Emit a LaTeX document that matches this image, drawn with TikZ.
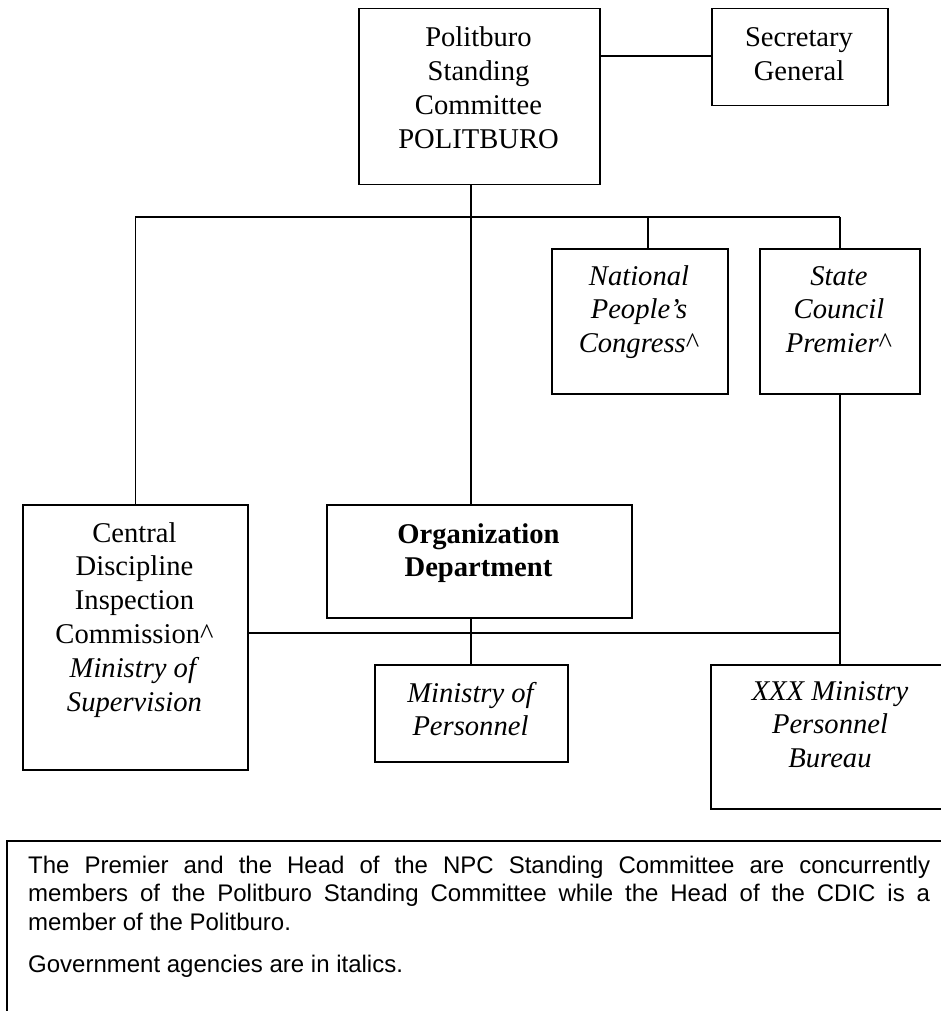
\documentclass[tikz,border=0pt]{standalone}
\usepackage{fontspec}
\setmainfont{Liberation Serif}
\newfontfamily\notefont{Liberation Sans}
\begin{document}
\begin{tikzpicture}[x=1pt,y=-1pt,
  box/.style={draw=black,line width=1.5pt,inner sep=0pt,anchor=north west,fill=none},
  lbl/.style={inner sep=0pt,anchor=base,font=\fontsize{28.6pt}{33.9pt}\selectfont},
  conn/.style={draw=black,line width=1.5pt}]
\clip (0,0) rectangle (941,1011);
\fill[white] (0,0) rectangle (941,1011);
% boxes
\node[box,minimum width=241pt,minimum height=176pt] (pb) at (358,8) {};
\node[box,minimum width=176pt,minimum height=97pt] (sg) at (711,8) {};
\node[box,minimum width=176pt,minimum height=145pt] (npc) at (551,248) {};
\node[box,minimum width=160pt,minimum height=145pt] (sc) at (759,248) {};
\node[box,minimum width=225pt,minimum height=265pt] (cdic) at (22,504) {};
\node[box,minimum width=305pt,minimum height=113pt] (org) at (326,504) {};
\node[box,minimum width=193pt,minimum height=97pt] (mop) at (374,664) {};
\node[box,minimum width=240pt,minimum height=144pt] (xxx) at (710,664) {};
\node[box,minimum width=980pt,minimum height=300pt] (note) at (6,840) {};
% labels
\node[lbl] (pbt) at (478.5,47) {\parbox[t]{300pt}{\centering Politburo\\Standing\\Committee\\POLITBURO}};
\node[lbl] (sgt) at (799,47) {\parbox[t]{300pt}{\centering Secretary\\General}};
\node[lbl] (npct) at (639,285) {\parbox[t]{300pt}{\centering\itshape National\\People’s\\Congress{\upshape\textasciicircum}}};
\node[lbl] (sct) at (839,285) {\parbox[t]{300pt}{\centering\itshape State\\Council\\Premier{\upshape\textasciicircum}}};
\node[lbl] (cdict) at (134.5,542) {\parbox[t]{300pt}{\centering Central\\Discipline\\Inspection\\Commission\textasciicircum\\\textit{Ministry of}\\\textit{Supervision}}};
\node[lbl] (orgt) at (478.5,543) {\parbox[t]{300pt}{\centering\bfseries Organization\\Department}};
\node[lbl] (mopt) at (470.5,702) {\parbox[t]{300pt}{\centering\itshape Ministry of\\Personnel}};
\node[lbl] (xxxt) at (830,700) {\parbox[t]{300pt}{\centering\itshape XXX Ministry\\Personnel\\Bureau}};
\node[inner sep=0pt,anchor=base west] (notet) at (28,873) {\parbox[t]{902pt}{\notefont\fontsize{24pt}{28.5pt}\selectfont
\makebox[902pt][s]{The Premier and the Head of the NPC Standing Committee are concurrently}\\
\makebox[902pt][s]{members of the Politburo Standing Committee while the Head of the CDIC is a}\\
member of the Politburo.\par\vspace{14pt}
Government agencies are in italics.}};
% connectors
\coordinate (bar) at (471,217);
\coordinate (lbar) at (471,633);
\draw[conn] ([yshift=-48pt]pb.north east) -- ([yshift=-48pt]sg.north west);
\draw[conn] (pb.south -| bar) -- (org.north -| bar);
\draw[conn] (cdic.north |- bar) -- (sc.north |- bar);
\draw[conn] (cdic.north) -- (cdic.north |- bar);
\draw[conn] ([xshift=8pt]npc.north) -- ([xshift=8pt]npc.north |- bar);
\draw[conn] (sc.north) -- (sc.north |- bar);
\draw[conn] (sc.south) -- (xxx.north -| sc.south);
\draw[conn] (cdic.east |- lbar) -- (sc.south |- lbar);
\draw[conn] (org.south -| bar) -- (mop.north -| bar);
\end{tikzpicture}
\end{document}
